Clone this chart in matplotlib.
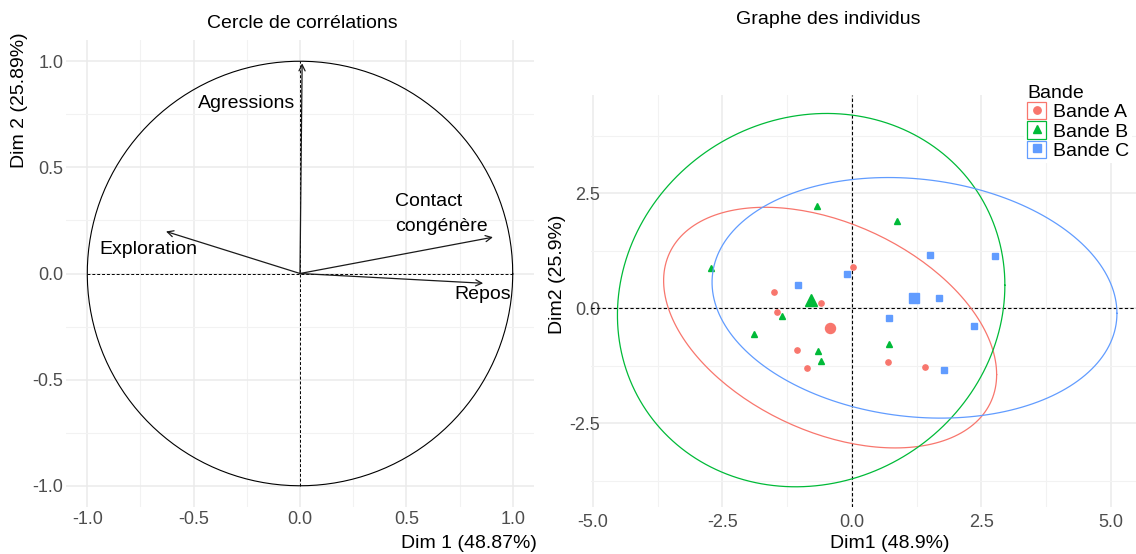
import numpy as np
import matplotlib
matplotlib.use("Agg")
import matplotlib.pyplot as plt
from matplotlib.lines import Line2D
from matplotlib.patches import Rectangle
from matplotlib.ticker import MultipleLocator, FormatStrFormatter

plt.rcParams["font.family"] = ["Liberation Sans", "DejaVu Sans"]
plt.rcParams["axes.unicode_minus"] = False

# cercle des correlations (coordonnees des variables)
var_names = ["Agressions", "Exploration", "Contact\ncongénère", "Repos"]
var_dim1 = [0.01, -0.63, 0.907, 0.861]
var_dim2 = [0.99, 0.198, 0.171, -0.046]

# individus par bande
bandes = ["Bande A", "Bande B", "Bande C"]
bande_a_x = [0.02, -1.50, -0.60, -1.45, -1.05, -0.87, 0.69, 1.41]
bande_a_y = [0.89, 0.36, 0.12, -0.07, -0.91, -1.30, -1.17, -1.28]
bande_b_x = [-0.67, -2.72, -1.35, -1.88, -0.65, -0.60, 0.87, 0.72]
bande_b_y = [2.22, 0.87, -0.16, -0.55, -0.93, -1.15, 1.90, -0.78]
bande_c_x = [-0.09, -1.03, 1.51, 2.76, 1.69, 0.72, 2.35, 1.77]
bande_c_y = [0.74, 0.51, 1.16, 1.13, 0.22, -0.22, -0.38, -1.34]

couleurs = ["#F8766D", "#00BA38", "#619CFF"]
marqueurs = ["o", "^", "s"]
GRIS = "#4D4D4D"
FS = 14


def ellipse(x, y, level=0.95, n=200):
    # ellipse de confiance "norm" (comme stat_ellipse)
    x = np.asarray(x)
    y = np.asarray(y)
    k = len(x)
    d2 = k - 1
    F = d2 / 2 * ((1 - level) ** (-2 / d2) - 1)
    r = np.sqrt(2 * F)
    cov = np.cov(x, y)
    L = np.linalg.cholesky(cov)
    t = np.linspace(0, 2 * np.pi, n)
    circ = np.c_[np.cos(t), np.sin(t)]
    pts = r * circ @ L.T + [x.mean(), y.mean()]
    return pts[:, 0], pts[:, 1]


def style_axes(ax, major, minor):
    for s in ax.spines.values():
        s.set_visible(False)
    ax.xaxis.set_major_locator(MultipleLocator(major))
    ax.yaxis.set_major_locator(MultipleLocator(major))
    ax.xaxis.set_minor_locator(MultipleLocator(minor))
    ax.yaxis.set_minor_locator(MultipleLocator(minor))
    ax.xaxis.set_major_formatter(FormatStrFormatter("%.1f"))
    ax.yaxis.set_major_formatter(FormatStrFormatter("%.1f"))
    ax.grid(which="major", color="#EBEBEB", lw=1.1)
    ax.grid(which="minor", color="#F2F2F2", lw=0.8)
    ax.tick_params(which="both", length=0, labelsize=13, labelcolor=GRIS)
    ax.set_axisbelow(True)


W, H = 1136, 554
fig = plt.figure(figsize=(W / 100, H / 100), dpi=100)


def px_box(x0, y0, x1, y1):
    return [x0 / W, 1 - y1 / H, (x1 - x0) / W, (y1 - y0) / H]


# ---- Cercle de correlations ----
ax1 = fig.add_axes(px_box(66, 40, 534, 507))
style_axes(ax1, 0.5, 0.25)
ax1.set_xlim(-1.1, 1.1)
ax1.set_ylim(-1.1, 1.1)
ax1.tick_params(axis="y", pad=2)
ax1.tick_params(axis="x", pad=3)

t = np.linspace(0, 2 * np.pi, 300)
ax1.plot(np.cos(t), np.sin(t), color="black", lw=0.8)
ax1.plot([-1, 1], [0, 0], color="black", lw=0.7, ls=(0, (3, 2)))
ax1.plot([0, 0], [-1, 1], color="black", lw=0.7, ls=(0, (3, 2)))

for x, y in zip(var_dim1, var_dim2):
    ax1.annotate("", xy=(x, y), xytext=(0, 0),
                 arrowprops=dict(arrowstyle="->", color="#1A1A1A", lw=0.9,
                                 shrinkA=0, shrinkB=0, mutation_scale=11))

lab_pos = [(-0.25, 0.80, "center"), (-0.715, 0.111, "center"),
           (0.447, 0.28, "left"), (0.859, -0.098, "center")]
for nom, (lx, ly, ha) in zip(var_names, lab_pos):
    ax1.text(lx, ly, nom, ha=ha, va="center", fontsize=FS, color="black",
             linespacing=1.55)

fig.text(302 / W, 1 - 23 / H, "Cercle de corrélations", ha="center",
         va="center", fontsize=FS)
fig.text(537 / W, 1 - 543 / H, "Dim 1 (48.87%)", ha="right", va="center",
         fontsize=FS)
fig.text(20 / W, 1 - 32 / H, "Dim 2 (25.89%)", ha="center", va="top",
         rotation=90, fontsize=FS)

# ---- Graphe des individus ----
ax2 = fig.add_axes(px_box(591, 95, 1136, 507))
style_axes(ax2, 2.5, 1.25)
ax2.set_xlim(-5.035, 5.486)
ax2.set_ylim(-4.32, 4.637)
ax2.tick_params(axis="y", pad=-6.5)
ax2.tick_params(axis="x", pad=5)
ax2.axhline(0, color="black", lw=0.8, ls=(0, (3, 2)))
ax2.axvline(0, color="black", lw=0.8, ls=(0, (3, 2)))

groupes = [(bande_a_x, bande_a_y), (bande_b_x, bande_b_y),
           (bande_c_x, bande_c_y)]
handles = []
for (gx, gy), c, m, nom in zip(groupes, couleurs, marqueurs, bandes):
    ex, ey = ellipse(gx, gy)
    ax2.plot(ex, ey, color=c, lw=0.9)
    ms = 4.5 if m == "^" else 3.8
    ax2.plot(gx, gy, ls="none", marker=m, color=c, ms=ms)
    ax2.plot(np.mean(gx), np.mean(gy), ls="none", marker=m, color=c,
             ms=ms * 1.9)
    handles.append((Rectangle((0, 0), 1, 1, facecolor="white", edgecolor=c,
                              lw=0.9),
                    Line2D([], [], ls="none", marker=m, color=c, ms=ms + 1.5)))

leg = ax2.legend(handles, bandes, title="Bande", fontsize=FS,
                 title_fontsize=FS, loc="upper left",
                 bbox_to_anchor=(1024 / W, 1 - 82 / H),
                 bbox_transform=fig.transFigure,
                 handlelength=1.0, handleheight=1.0, handletextpad=0.35,
                 labelspacing=0.0, borderpad=0.15, borderaxespad=0,
                 frameon=True, facecolor="white", edgecolor="none",
                 framealpha=1, alignment="left")

fig.text(828 / W, 1 - 20 / H, "Graphe des individus", ha="center",
         va="center", fontsize=FS)
fig.text(890 / W, 1 - 543 / H, "Dim1 (48.9%)", ha="center", va="center",
         fontsize=FS)
fig.text(558 / W, 1 - 274 / H, "Dim2 (25.9%)", ha="center", va="center",
         rotation=90, fontsize=FS)

fig.savefig("out.png", dpi=100)
